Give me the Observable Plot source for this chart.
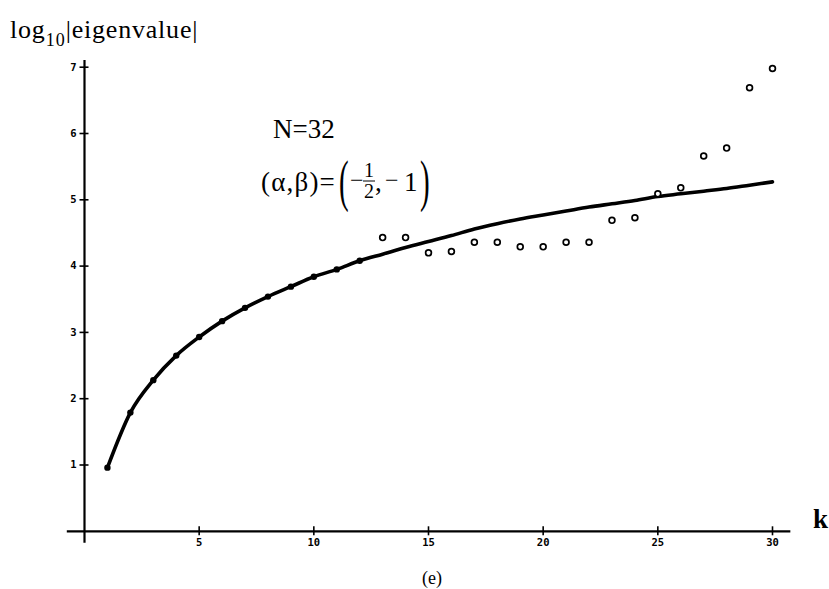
<!DOCTYPE html>
<html>
<head>
<meta charset="utf-8">
<script src="https://cdn.jsdelivr.net/npm/d3@7"></script>
<script src="https://cdn.jsdelivr.net/npm/@observablehq/plot@0.6"></script>
<style>
  html, body { margin: 0; padding: 0; background: #fff; }
  #chart { position: relative; width: 829px; height: 589px; }
</style>
</head>
<body>
<div id="chart"></div>
<script>
// ---- data ----
const kFilled = [1,2,3,4,5,6,7,8,9,10,11,12];
const vFilled = [0.96,1.79,2.28,2.65,2.93,3.17,3.37,3.54,3.69,3.84,3.95,4.08];

const kCurve = [1,2,3,4,5,6,7,8,9,10,11,12,13,14,15,16,17,18,19,20,21,22,23,24,25,26,27,28,29,30];
const vCurve = [0.96,1.79,2.28,2.65,2.93,3.17,3.37,3.54,3.69,3.84,3.95,4.08,
                4.18,4.28,4.37,4.46,4.56,4.64,4.71,4.77,4.83,4.89,4.94,4.99,5.05,5.09,5.13,5.17,5.22,5.27];

const kOpen = [13,14,15,16,17,18,19,20,21,22,23,24,25,26,27,28,29,30];
const vOpen = [4.43,4.43,4.20,4.22,4.36,4.36,4.29,4.29,4.36,4.36,4.69,4.73,5.09,5.18,5.66,5.78,6.69,6.98];

const xTicks = [5,10,15,20,25,30];
const yTicks = [1,2,3,4,5,6,7];
const xAxisExtent = [-0.75, 30.8];
const yAxisExtent = [-0.18, 7.1];

const filled = kFilled.map((k, i) => ({k, v: vFilled[i]}));
const curve = kCurve.map((k, i) => ({k, v: vCurve[i]}));
const open = kOpen.map((k, i) => ({k, v: vOpen[i]}));

const tickFont = {fontSize: 10.5, fontWeight: "bold", fontFamily: "DejaVu Sans Mono", tickFormat: d => String(d)};

const svg = Plot.plot({
  width: 829,
  height: 589,
  marginLeft: 84,
  marginRight: 57,
  marginTop: 66.7,
  marginBottom: 58.2,
  style: {background: "#fff", color: "#000"},
  x: {domain: [0, 30]},
  y: {domain: [0, 7]},
  marks: [
    Plot.ruleY([0], {x1: xAxisExtent[0], x2: xAxisExtent[1], stroke: "#000", strokeWidth: 2.2}),
    Plot.ruleX([0], {y1: yAxisExtent[0], y2: yAxisExtent[1], stroke: "#000", strokeWidth: 2.2}),
    Plot.axisX(xTicks, {anchor: "bottom", tickSize: 9, dy: -4.5, tickPadding: 3, label: null, strokeWidth: 1.6, ...tickFont}),
    Plot.axisY(yTicks, {anchor: "left", tickSize: 9, dx: 4.5, tickPadding: 3.5, label: null, strokeWidth: 1.6, ...tickFont}),
    Plot.line(curve, {x: "k", y: "v", stroke: "#000", strokeWidth: 3.6, curve: "monotone-x"}),
    Plot.dot(filled, {x: "k", y: "v", r: 3.2, fill: "#000", stroke: "none"}),
    Plot.dot(open, {x: "k", y: "v", r: 2.9, fill: "#fff", stroke: "#000", strokeWidth: 1.7})
  ]
});
document.getElementById("chart").appendChild(svg);

// ---- annotations (text) ----
const s = d3.select(svg);
const serif = "'Liberation Serif', 'Times New Roman', serif";
const g = s.append("g").attr("font-family", serif).attr("fill", "#000").attr("text-anchor", "start");

const yl = g.append("text").attr("x", 10).attr("y", 38).attr("font-size", 26).attr("letter-spacing", 0.8);
yl.append("tspan").text("log");
yl.append("tspan").attr("font-size", 18).attr("letter-spacing", 1).attr("dy", 8).text("10");
yl.append("tspan").attr("dy", -8).text("|eigenvalue|");

g.append("text").attr("x", 273).attr("y", 138).attr("font-size", 27).text("N=32");

g.append("text").attr("x", 261).attr("y", 191).attr("font-size", 27).attr("letter-spacing", 1.2).text("(α,β)=");
g.append("text").attr("x", 339).attr("y", 200).attr("font-size", 58)
  .attr("transform", "translate(339,200) scale(0.5,1) translate(-339,-200)").text("(");
g.append("text").attr("x", 350).attr("y", 188).attr("font-size", 24).text("−");
g.append("text").attr("x", 369).attr("y", 177).attr("font-size", 20).attr("text-anchor", "middle").text("1");
g.append("line").attr("x1", 363).attr("x2", 375).attr("y1", 181).attr("y2", 181).attr("stroke", "#000").attr("stroke-width", 1);
g.append("text").attr("x", 369).attr("y", 198).attr("font-size", 20).attr("text-anchor", "middle").text("2");
g.append("text").attr("x", 375).attr("y", 191).attr("font-size", 27).text(",");
g.append("text").attr("x", 385).attr("y", 188).attr("font-size", 24).text("−");
g.append("text").attr("x", 404).attr("y", 191).attr("font-size", 27).text("1");
g.append("text").attr("x", 420).attr("y", 200).attr("font-size", 58)
  .attr("transform", "translate(420,200) scale(0.5,1) translate(-420,-200)").text(")");

g.append("text").attr("x", 813).attr("y", 528).attr("font-size", 27).attr("font-weight", "bold").text("k");

g.append("text").attr("x", 432).attr("y", 584).attr("text-anchor", "middle").attr("font-size", 18).text("(e)");
</script>
</body>
</html>
